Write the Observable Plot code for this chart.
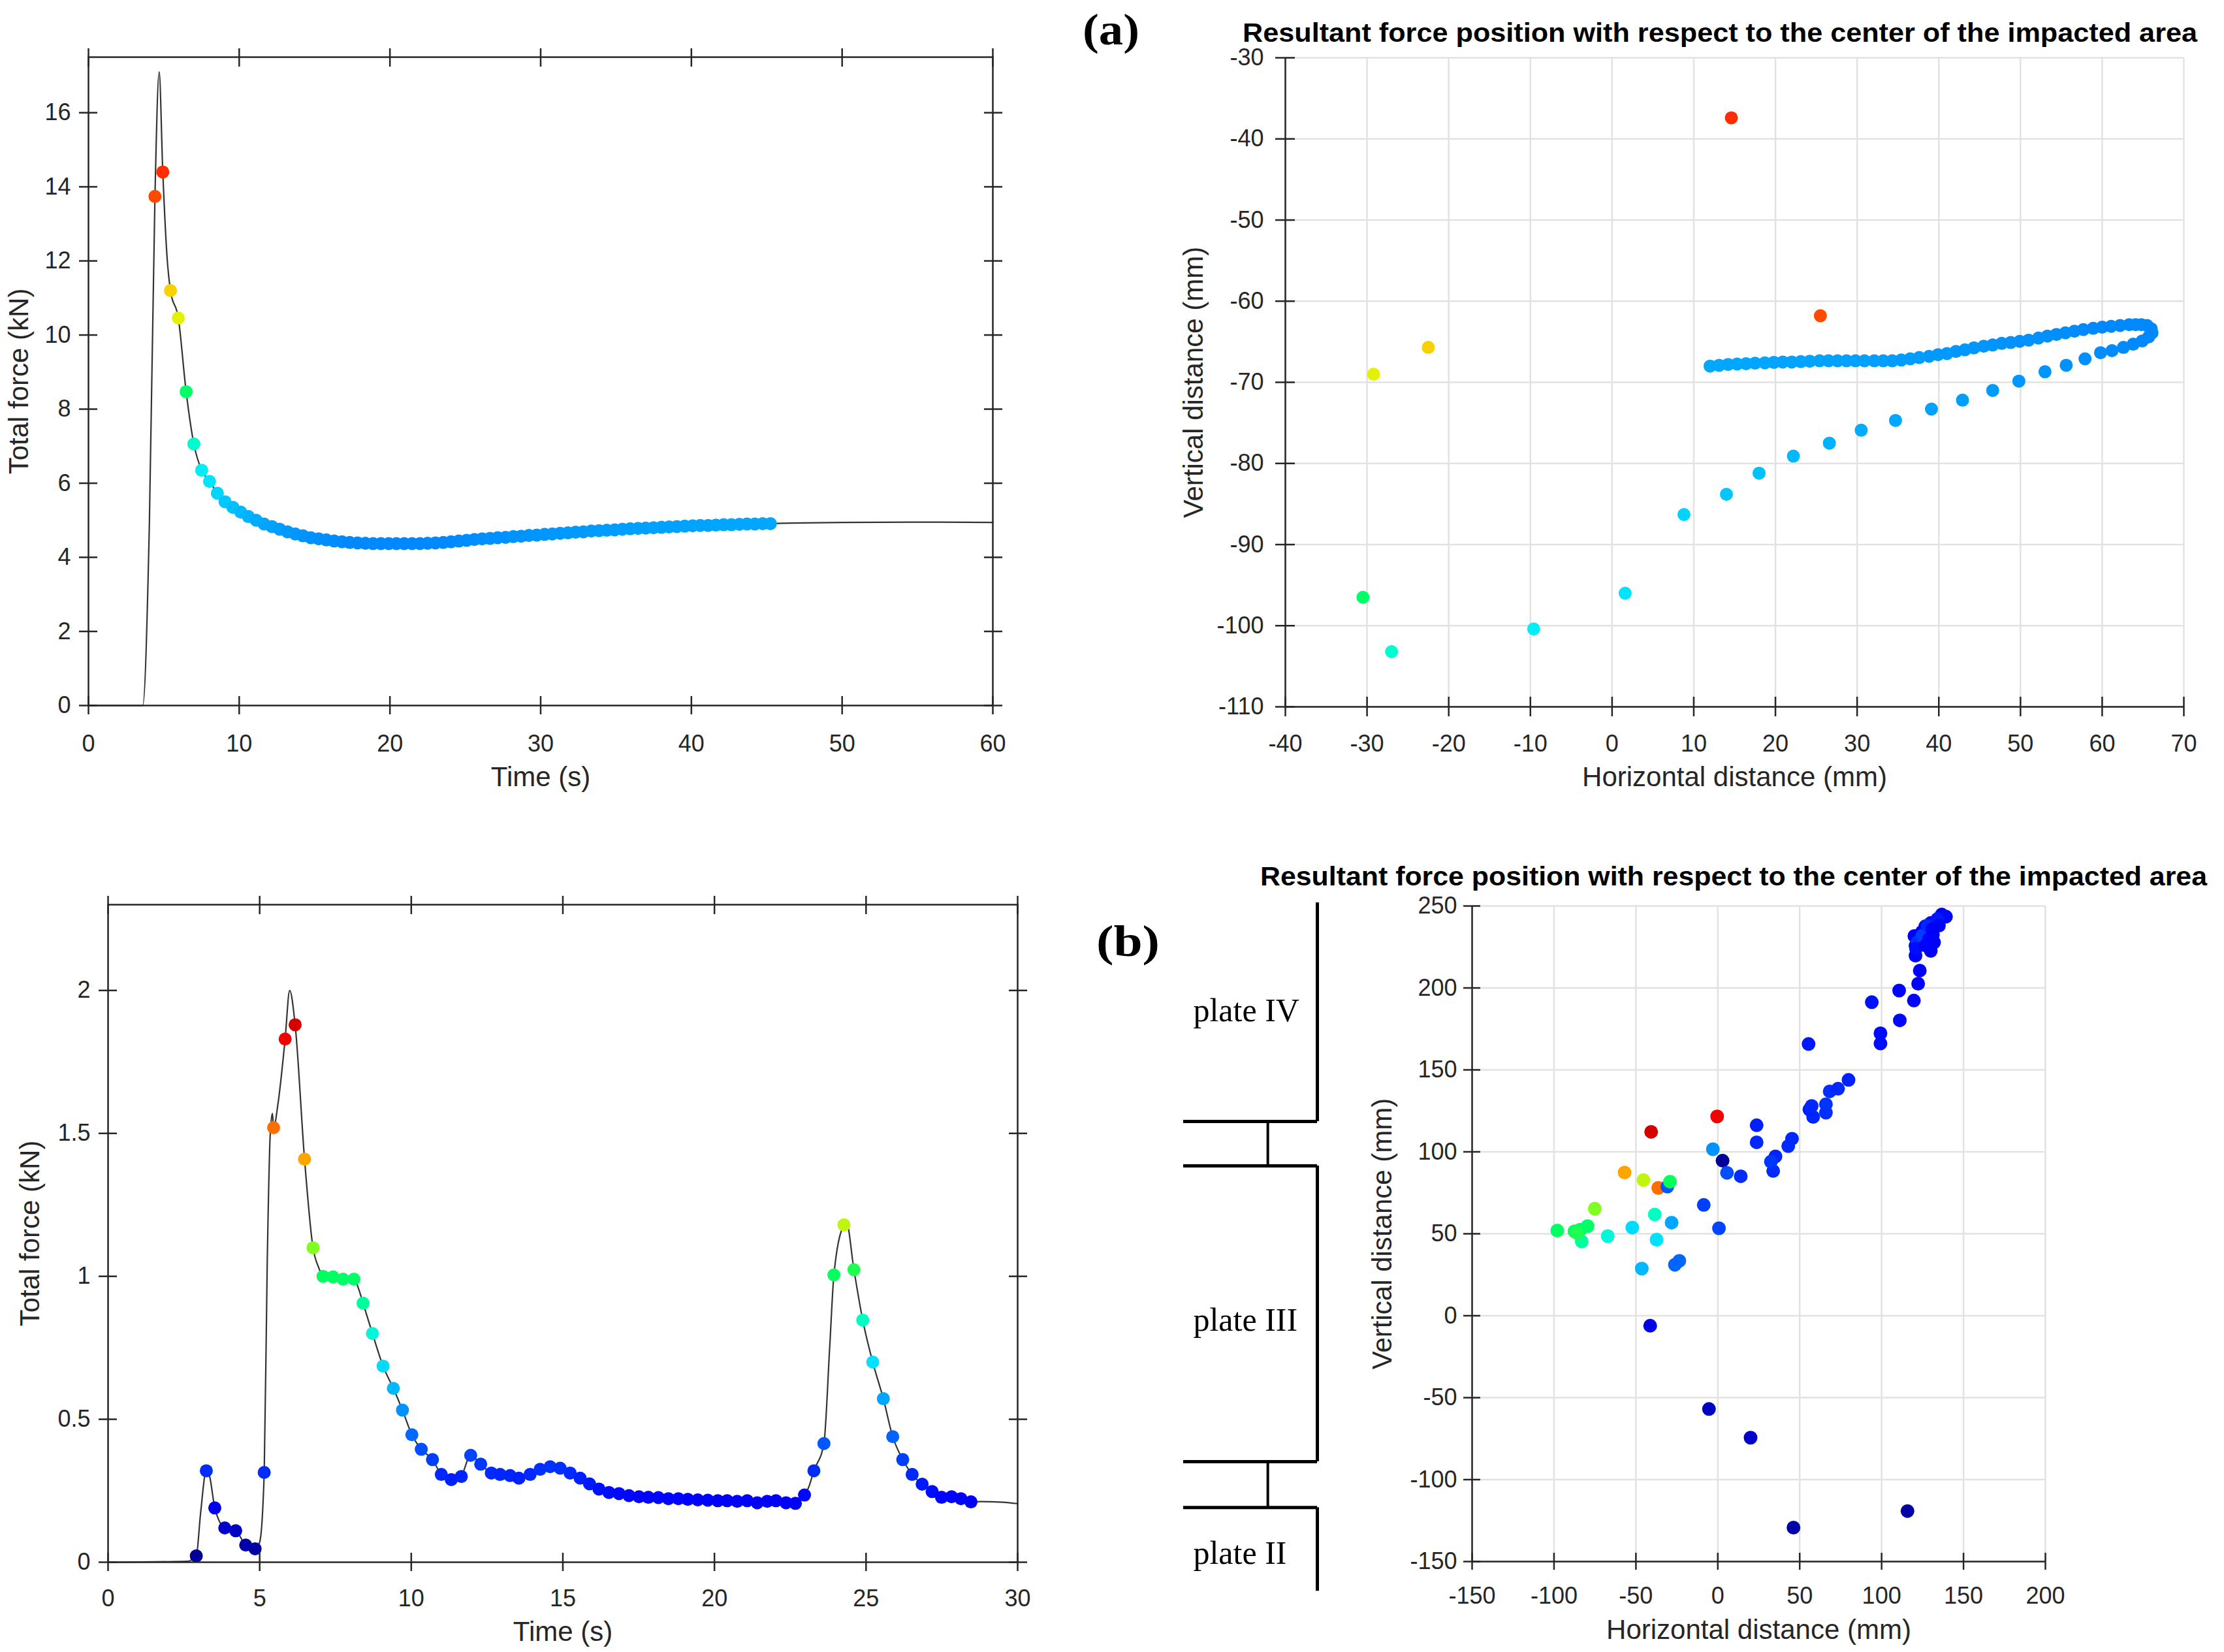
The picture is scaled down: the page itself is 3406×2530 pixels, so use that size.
<!DOCTYPE html>
<html><head><meta charset="utf-8">
<script src="https://cdn.jsdelivr.net/npm/d3@7"></script>
<script src="https://cdn.jsdelivr.net/npm/@observablehq/plot@0.6"></script>
<style>
html,body{margin:0;padding:0;background:#fff;}
#root{position:relative;width:3406px;height:2530px;background:#fff;overflow:hidden;}
</style></head><body><div id="root"></div>
<script>
// ---------------- DATA ----------------
// (a) force-time signal: sampled dots
const tA = [4.41,4.93,5.44,5.96,6.48,6.99,7.51,8.03,8.55,9.06,
  9.58,10.10,10.61,11.13,11.65,12.17,12.68,13.20,13.72,14.23,
  14.75,15.27,15.78,16.30,16.82,17.33,17.85,18.37,18.88,19.40,
  19.92,20.43,20.95,21.47,21.99,22.50,23.02,23.54,24.05,24.57,
  25.09,25.60,26.12,26.64,27.15,27.67,28.19,28.70,29.22,29.74,
  30.26,30.77,31.29,31.81,32.32,32.84,33.36,33.87,34.39,34.91,
  35.42,35.94,36.46,36.97,37.49,38.01,38.52,39.04,39.56,40.08,
  40.59,41.11,41.63,42.14,42.66,43.18,43.69,44.21,44.73,45.24];
const fA = [13.74,14.40,11.20,10.46,8.47,7.06,6.35,6.05,5.73,5.50,
  5.35,5.22,5.10,5.00,4.90,4.83,4.76,4.69,4.63,4.58,
  4.53,4.50,4.47,4.44,4.42,4.40,4.39,4.38,4.37,4.37,
  4.37,4.37,4.37,4.37,4.37,4.38,4.39,4.40,4.42,4.44,
  4.46,4.48,4.50,4.51,4.53,4.54,4.56,4.57,4.59,4.60,
  4.62,4.63,4.65,4.66,4.68,4.69,4.71,4.72,4.73,4.74,
  4.76,4.77,4.78,4.79,4.80,4.81,4.82,4.83,4.84,4.85,
  4.86,4.86,4.87,4.88,4.88,4.89,4.90,4.90,4.91,4.91];
// (a) resultant force position for each sample (mm)
const xA = [25.5,14.6,-22.5,-29.2,-30.5,-27.0,-9.6,1.6,8.8,14.0,
  18.0,22.2,26.6,30.5,34.7,39.1,42.9,46.6,49.8,53.0,
  55.6,57.9,59.8,61.2,62.6,63.8,64.9,65.7,66.1,66.0,
  65.5,64.8,64.1,63.3,62.2,61.1,60.0,58.9,57.7,56.6,
  55.5,54.4,53.3,52.2,51.0,49.9,48.8,47.7,46.6,45.5,
  44.3,43.2,42.1,41.0,39.9,38.8,37.6,36.5,35.4,34.3,
  33.2,32.1,30.9,29.8,28.7,27.6,26.5,25.4,24.2,23.1,
  22.0,20.9,19.8,18.7,17.5,16.4,15.3,14.2,13.1,12.0];
const yA = [-61.8,-37.4,-65.7,-69.0,-96.5,-103.2,-100.4,-96.0,-86.3,-83.8,
  -81.2,-79.1,-77.5,-75.9,-74.7,-73.3,-72.2,-71.0,-69.85,-68.7,
  -67.9,-67.1,-66.35,-66.1,-65.7,-65.3,-64.9,-64.4,-63.9,-63.4,
  -63.0,-62.9,-62.9,-62.9,-63.0,-63.1,-63.2,-63.35,-63.5,-63.7,
  -63.9,-64.1,-64.3,-64.55,-64.8,-64.95,-65.1,-65.2,-65.4,-65.55,
  -65.75,-66.0,-66.2,-66.45,-66.6,-66.8,-66.95,-67.1,-67.25,-67.35,
  -67.35,-67.35,-67.35,-67.35,-67.35,-67.35,-67.35,-67.35,-67.4,-67.45,
  -67.5,-67.5,-67.55,-67.6,-67.65,-67.7,-67.75,-67.8,-67.9,-68.0];
// (a) continuous force curve: extra points between / outside the samples
const lineTA = [0, 3.6, 4.04, 4.69, 5.25, 46, 50, 55, 60];
const lineFA = [0, 0, 4.9, 17.1, 11.9, 4.92, 4.94, 4.95, 4.94];

// (b) force-time signal: sampled dots
const tB = [2.91,3.24,3.52,3.85,4.21,4.54,4.85,5.15,5.46,5.84,
  6.17,6.48,6.76,7.09,7.42,7.75,8.11,8.41,8.72,9.07,
  9.41,9.71,10.02,10.33,10.70,10.99,11.32,11.65,11.96,12.29,
  12.64,12.93,13.26,13.55,13.92,14.25,14.58,14.91,15.24,15.57,
  15.88,16.19,16.52,16.85,17.18,17.51,17.82,18.15,18.48,18.81,
  19.12,19.45,19.78,20.11,20.42,20.75,21.08,21.41,21.74,22.03,
  22.36,22.67,22.97,23.28,23.61,23.94,24.27,24.60,24.89,25.22,
  25.57,25.88,26.21,26.52,26.85,27.18,27.49,27.82,28.13,28.46];
const fB = [0.022,0.32,0.19,0.12,0.11,0.06,0.047,0.314,1.52,1.83,
  1.88,1.41,1.10,1.00,0.998,0.99,0.99,0.906,0.80,0.686,
  0.608,0.532,0.446,0.395,0.359,0.307,0.289,0.30,0.374,0.343,
  0.312,0.307,0.303,0.294,0.307,0.325,0.334,0.329,0.312,0.294,
  0.274,0.256,0.244,0.240,0.233,0.229,0.227,0.226,0.222,0.222,
  0.220,0.218,0.217,0.215,0.215,0.213,0.215,0.208,0.213,0.215,
  0.208,0.206,0.235,0.32,0.415,1.005,1.18,1.023,0.847,0.70,
  0.572,0.439,0.359,0.307,0.273,0.247,0.227,0.229,0.222,0.211];
// (b) resultant force position for each sample (mm)
const xB = [2.9,14.0,-41.3,20.0,-5.4,46.2,115.8,33.8,-36.4,-0.4,
  -40.7,-56.9,-75.1,-98.0,-87.5,-84.0,-79.5,-83.1,-67.2,-52.2,
  -46.4,-3.0,-23.5,5.6,-8.6,23.7,23.7,35.2,0.7,32.4,
  43.0,45.3,58.2,55.9,57.3,66.0,66.0,68.3,73.4,79.8,
  55.4,94.0,99.3,99.3,111.1,110.7,119.7,122.3,123.3,120.7,
  120.7,120.0,124.7,126.0,130.0,132.0,131.3,128.7,126.7,130.0,
  133.3,136.7,139.3,122.0,-30.8,-29.2,-45.4,-86.0,-38.5,-37.4,
  -28.2,-26.2,125.0,128.0,134.0,121.0,129.0,135.0,127.0,131.0];
const yB = [94.6,85.1,-6.1,-74.4,-56.9,-129.3,-119.2,88.3,78.0,121.6,
  112.2,87.4,65.3,52.0,51.5,52.5,54.7,45.3,48.6,53.8,
  28.8,101.6,33.5,87.2,67.6,105.8,116.2,97.2,53.4,94.0,
  103.5,108.0,121.3,125.8,128.0,123.9,129.0,136.9,138.5,143.9,
  165.8,191.3,166.1,172.3,180.2,198.4,192.3,202.6,210.6,219.7,
  225.8,231.7,234.3,229.8,222.6,227.8,232.4,235.0,237.6,239.6,
  240.2,244.8,243.5,228.0,78.8,81.8,82.8,50.5,61.8,46.4,
  56.8,31.1,232.0,238.0,242.0,224.0,230.0,238.0,226.0,236.0];
// (b) continuous force curve: extra points
const lineTB = [0, 2.6, 3.05, 3.35, 5.0, 5.25, 5.35, 5.42, 5.6, 5.99, 6.95, 8.25, 11.5, 23.1, 23.8, 24.35, 28.8, 29.5, 30];
const lineFB = [0, 0.003, 0.17, 0.30, 0.07, 1.05, 1.50, 1.57, 1.60, 2.0, 1.03, 0.96, 0.285, 0.26, 0.75, 1.19, 0.212, 0.21, 0.205];

// Plates beside panel (b), in the vertical distance (mm) frame
const plateNames = ["plate IV", "plate III", "plate II"];
const plateTop = [252, 91.4, -117];
const plateBottom = [118.5, -89, -168];
const plateLabelY = [186, -2.6, -145];

// axes / ticks
const xDomA1 = [0, 60], yDomA1 = [0, 17.5];
const xTicksA1 = [0, 10, 20, 30, 40, 50, 60];
const yTicksA1 = [0, 2, 4, 6, 8, 10, 12, 14, 16];
const xDomA2 = [-40, 70], yDomA2 = [-110, -30];
const xTicksA2 = [-40, -30, -20, -10, 0, 10, 20, 30, 40, 50, 60, 70];
const yTicksA2 = [-110, -100, -90, -80, -70, -60, -50, -40, -30];
const xDomB1 = [0, 30], yDomB1 = [0, 2.3];
const xTicksB1 = [0, 5, 10, 15, 20, 25, 30];
const yTicksB1 = [0, 0.5, 1, 1.5, 2];
const xDomB2 = [-150, 200], yDomB2 = [-150, 250];
const xTicksB2 = [-150, -100, -50, 0, 50, 100, 150, 200];
const yTicksB2 = [-150, -100, -50, 0, 50, 100, 150, 200, 250];

const peakA = 17.1, peakB = 2.0;
const titleText = "Resultant force position with respect to the center of the impacted area";

// ---------------- BUILD ----------------
const ink = "#262626", gridC = "#e2e2e2";
// jet-like colour map (fraction of the peak force -> colour)
const cmapStops = [0, 0.11, 0.2, 0.3, 0.36, 0.42, 0.5, 0.55, 0.62, 0.70, 0.77, 0.88, 0.92, 1];
const cmapColors = ["#00008a", "#0000ff", "#0050ff", "#00b4ff", "#00eaff", "#00ffc8", "#00ff60", "#80ff20", "#f0f000", "#ffaa00", "#ff6400", "#ff1000", "#f00000", "#800000"];
const fmt = d => String(d);
const none = () => "";
const sans = "'Liberation Sans', Arial, sans-serif";
const baseStyle = {fontFamily: sans, fontSize: "36px", color: ink, background: "transparent", overflow: "visible"};

const ptsA = tA.map((t, i) => ({t, f: fA[i], x: xA[i], y: yA[i]}));
const ptsB = tB.map((t, i) => ({t, f: fB[i], x: xB[i], y: yB[i]}));
const curveA = ptsA.map(d => ({t: d.t, f: d.f})).concat(lineTA.map((t, i) => ({t, f: lineFA[i]}))).sort((a, b) => a.t - b.t);
const curveB = ptsB.map(d => ({t: d.t, f: d.f})).concat(lineTB.map((t, i) => ({t, f: lineFB[i]}))).sort((a, b) => a.t - b.t);

const jet = peak => ({type: "linear", domain: cmapStops.map(s => s * peak), range: cmapColors, interpolate: "rgb"});

function boxAxes(xTicks, yTicks, half, padX, padY) {
  const o = {stroke: ink, strokeWidth: 2.5, label: null, fontSize: 36, fill: ink};
  return [
    Plot.axisX({...o, ticks: xTicks, anchor: "bottom", tickSize: 2 * half, dy: -half, tickPadding: padX, tickFormat: fmt}),
    Plot.axisX({...o, ticks: xTicks, anchor: "top", tickSize: 2 * half, dy: half, tickFormat: none}),
    Plot.axisY({...o, ticks: yTicks, anchor: "left", tickSize: 2 * half, dx: half, tickPadding: padY, tickFormat: fmt}),
    Plot.axisY({...o, ticks: yTicks, anchor: "right", tickSize: 2 * half, dx: -half, tickFormat: none})
  ];
}
function xTitle(s, off) { return Plot.text([s], {text: d => d, frameAnchor: "bottom", dy: off, fontSize: 42, fill: ink, lineAnchor: "middle", textAnchor: "middle"}); }
function yTitle(s, off) { return Plot.text([s], {text: d => d, frameAnchor: "left", dx: -off, rotate: -90, fontSize: 42, fill: ink, lineAnchor: "middle", textAnchor: "middle"}); }

const root = document.getElementById("root");
function place(el, left, top) { el.style.position = "absolute"; el.style.left = left + "px"; el.style.top = top + "px"; root.appendChild(el); }

// Panel (a) left: force vs time
place(Plot.plot({
  width: 1580, height: 1215, marginLeft: 135, marginRight: 60, marginTop: 87, marginBottom: 135,
  x: {domain: xDomA1}, y: {domain: yDomA1}, color: jet(peakA), style: baseStyle,
  marks: [
    Plot.line(curveA, {x: "t", y: "f", stroke: "#333", strokeWidth: 2.2, curve: "monotone-x"}),
    Plot.dot(ptsA, {x: "t", y: "f", r: 10, fill: "f"}),
    Plot.frame({stroke: ink, strokeWidth: 2.5}),
    ...boxAxes(xTicksA1, yTicksA1, 14, 31, 13),
    xTitle("Time (s)", 110),
    yTitle("Total force (kN)", 106)
  ]
}), 0, 0);

// Panel (a) right: scatter
place(Plot.plot({
  width: 1634, height: 1222, marginLeft: 218, marginRight: 40, marginTop: 88, marginBottom: 140,
  x: {domain: xDomA2}, y: {domain: yDomA2}, color: jet(peakA), style: baseStyle,
  marks: [
    Plot.gridX({ticks: xTicksA2, stroke: gridC, strokeOpacity: 1, strokeWidth: 2.5}),
    Plot.gridY({ticks: yTicksA2, stroke: gridC, strokeOpacity: 1, strokeWidth: 2.5}),
    Plot.ruleX([xDomA2[0]], {stroke: ink, strokeWidth: 2.5}),
    Plot.ruleY([yDomA2[0]], {stroke: ink, strokeWidth: 2.5}),
    Plot.axisX({ticks: xTicksA2, tickSize: 30, dy: -15, tickPadding: 28, tickFormat: fmt, label: null, fontSize: 36, stroke: ink, fill: ink, strokeWidth: 2.5}),
    Plot.axisY({ticks: yTicksA2, tickSize: 30, dx: 15, tickPadding: 18, tickFormat: fmt, label: null, fontSize: 36, stroke: ink, fill: ink, strokeWidth: 2.5}),
    Plot.dot(ptsA, {x: "x", y: "y", r: 10, fill: "f"}),
    xTitle("Horizontal distance (mm)", 108),
    yTitle("Vertical distance (mm)", 140)
  ]
}), 1750, 0);

// Panel (b) left: force vs time
place(Plot.plot({
  width: 1608, height: 1230, marginLeft: 165, marginRight: 50, marginTop: 85, marginBottom: 138,
  x: {domain: xDomB1}, y: {domain: yDomB1}, color: jet(peakB), style: baseStyle,
  marks: [
    Plot.line(curveB, {x: "t", y: "f", stroke: "#333", strokeWidth: 2.2, curve: "monotone-x"}),
    Plot.dot(ptsB, {x: "t", y: "f", r: 10, fill: "f"}),
    Plot.frame({stroke: ink, strokeWidth: 2.5}),
    ...boxAxes(xTicksB1, yTicksB1, 14, 28, 13),
    xTitle("Time (s)", 107),
    yTitle("Total force (kN)", 119)
  ]
}), 0, 1300);

// Plate diagram next to panel (b) right
const bracketX = 1, connectorX = 0.63, labelX = 0.073;
const plates = plateNames.map((name, i) => ({name, top: plateTop[i], bottom: plateBottom[i], ly: plateLabelY[i]}));
const inner = plates.slice(1).map((p, i) => ({a: plates[i].bottom, b: p.top}));
place(Plot.plot({
  width: 260, height: 1230, marginLeft: 32, marginRight: 23, marginTop: 87, marginBottom: 139,
  x: {domain: [0, 1], axis: null}, y: {domain: yDomB2, axis: null}, style: baseStyle,
  marks: [
    Plot.ruleX(plates, {x: () => bracketX, y1: "top", y2: "bottom", stroke: "#000", strokeWidth: 5}),
    Plot.ruleY(inner.flatMap(g => [g.a, g.b]), {y: d => d, x1: () => 0, x2: () => bracketX, stroke: "#000", strokeWidth: 5}),
    Plot.ruleX(inner, {x: () => connectorX, y1: "a", y2: "b", stroke: "#000", strokeWidth: 4}),
    Plot.text(plates, {x: () => labelX, y: "ly", text: "name", textAnchor: "start", lineAnchor: "middle", fontFamily: "'Liberation Serif', 'Times New Roman', serif", fontSize: 50, fill: "#000"})
  ]
}), 1780, 1300);

// Panel (b) right: scatter
place(Plot.plot({
  width: 1132, height: 1230, marginLeft: 194, marginRight: 60, marginTop: 87, marginBottom: 139,
  x: {domain: xDomB2}, y: {domain: yDomB2}, color: jet(peakB), style: baseStyle,
  marks: [
    Plot.gridX({ticks: xTicksB2, stroke: gridC, strokeOpacity: 1, strokeWidth: 2.5}),
    Plot.gridY({ticks: yTicksB2, stroke: gridC, strokeOpacity: 1, strokeWidth: 2.5}),
    Plot.ruleX([xDomB2[0]], {stroke: ink, strokeWidth: 2.5}),
    Plot.ruleY([yDomB2[0]], {stroke: ink, strokeWidth: 2.5}),
    Plot.axisX({ticks: xTicksB2, tickSize: 26, dy: -13, tickPadding: 26, tickFormat: fmt, label: null, fontSize: 36, stroke: ink, fill: ink, strokeWidth: 2.5}),
    Plot.axisY({ticks: yTicksB2, tickSize: 26, dx: 13, tickPadding: 10, tickFormat: fmt, label: null, fontSize: 36, stroke: ink, fill: ink, strokeWidth: 2.5}),
    Plot.dot(ptsB, {x: "x", y: "y", r: 10.5, fill: "f"}),
    xTitle("Horizontal distance (mm)", 105),
    yTitle("Vertical distance (mm)", 137)
  ]
}), 2060, 1300);

// Titles and panel letters
const ov = d3.create("svg").attr("width", 3406).attr("height", 2530);
function label(x, y, s, font, size, len, anchor) {
  ov.append("text").attr("x", x).attr("y", y).attr("text-anchor", anchor)
    .attr("font-family", font).attr("font-weight", "bold").attr("font-size", size)
    .attr("textLength", len).attr("lengthAdjust", "spacingAndGlyphs").attr("fill", "#000").text(s);
}
label(2634, 64, titleText, sans, 41, 1462, "middle");
label(2655, 1356, titleText, sans, 41, 1450, "middle");
label(1658, 68, "(a)", "'Liberation Serif', 'Times New Roman', serif", 68, 87, "start");
label(1679, 1464, "(b)", "'Liberation Serif', 'Times New Roman', serif", 68, 97, "start");
const ovNode = ov.node();
ovNode.style.pointerEvents = "none";
place(ovNode, 0, 0);
</script>
</body></html>
